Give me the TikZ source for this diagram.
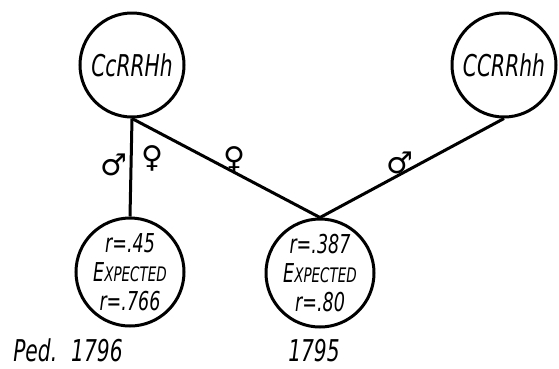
\documentclass[tikz,border=0pt]{standalone}
\usepackage{fontspec}
\newfontfamily\hand{DejaVu Sans Condensed Oblique}[FakeStretch=0.75]
\newfontfamily\symb{DejaVu Sans}
\begin{document}
\begin{tikzpicture}[x=1pt,y=-1pt,
  geno/.style={circle,draw,line width=3pt,minimum size=104pt,inner sep=0pt,
    font=\hand\fontsize{30}{30}\selectfont},
  child/.style={circle,draw,line width=3pt,minimum size=108pt,inner sep=0pt,align=center,
    font=\hand\fontsize{26}{29}\selectfont},
  link/.style={line width=3pt},
  sex/.style={font=\symb\fontsize{30}{30}\selectfont,inner sep=0pt},
  pedlabel/.style={font=\hand\fontsize{30}{30}\selectfont,inner sep=0pt,anchor=base}]
\useasboundingbox (0,0) rectangle (559,368);
% parents
\node[geno] (p1) at (132,65) {CcRRHh};
\node[geno] (p2) at (504,65) {CCRRhh};
% offspring
\node[child] (o1) at (130,272) {r=.45\\E{\fontsize{20}{20}\selectfont XPECTED}\\r=.766};
\node[child] (o2) at (320,273) {r=.387\\E{\fontsize{20}{20}\selectfont XPECTED}\\r=.80};
% matings
\draw[link] (p1.south) -- (o1.north);
\draw[link] (p1.south) -- (o2.north);
\draw[link] (p2.south) -- (o2.north);
% sex marks
\node[sex] (m1) at (114,165) {♂};
\node[sex] (f1) at (152,158) {♀};
\node[sex] (f2) at (234,159) {♀};
\node[sex] (m2) at (400,163) {♂};
% pedigree numbers
\node[pedlabel] (n1) at (68,361) {Ped.\hspace{14pt}1796};
\node[pedlabel] (n2) at (314,361) {1795};
\end{tikzpicture}
\end{document}
